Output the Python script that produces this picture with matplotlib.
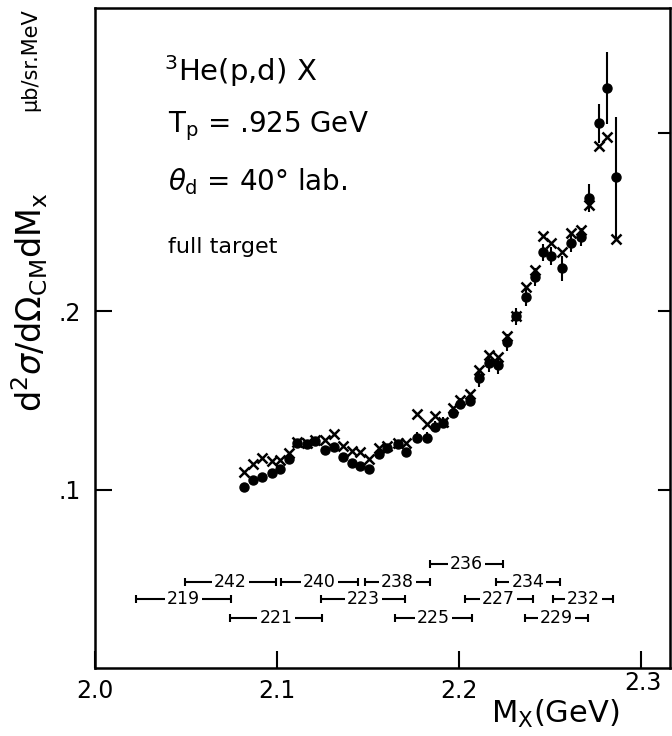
import numpy as np
import matplotlib.pyplot as plt

# M_x (GeV) des points mesures
mx = [2.0819, 2.0868, 2.0918, 2.0973, 2.1016, 2.1066, 2.1110, 2.1165, 2.1209,
      2.1264, 2.1313, 2.1363, 2.1412, 2.1456, 2.1505, 2.1560, 2.1604, 2.1665,
      2.1709, 2.1769, 2.1824, 2.1868, 2.1912, 2.1967, 2.2005, 2.2060, 2.2110,
      2.2165, 2.2214, 2.2264, 2.2313, 2.2368, 2.2418, 2.2462, 2.2505, 2.2566,
      2.2615, 2.2670, 2.2714, 2.2769, 2.2813, 2.2863]

# section efficace - points pleins
sig_dots = [0.1017, 0.1056, 0.1073, 0.1096, 0.1118, 0.1174, 0.1264, 0.1258, 0.1275,
            0.1225, 0.1242, 0.1185, 0.1152, 0.1135, 0.1118, 0.1202, 0.1236, 0.1258,
            0.1213, 0.1292, 0.1292, 0.1354, 0.1376, 0.1433, 0.1483, 0.1500, 0.1624,
            0.1708, 0.1697, 0.1826, 0.1972, 0.2079, 0.2191, 0.2331, 0.2309, 0.2242,
            0.2382, 0.2416, 0.2635, 0.3056, 0.3253, 0.2753]
err_dots = [0.002] * 19 + [0.003] * 7 + [0.005] * 9 + [0.007, 0.005, 0.005,
                                                     0.008, 0.011, 0.020, 0.034]

# section efficace - croix
sig_cross = [0.1101, 0.1146, 0.1180, 0.1163, 0.1169, 0.1208, 0.1270, 0.1264, 0.1281,
             0.1281, 0.1315, 0.1247, 0.1219, 0.1213, 0.1174, 0.1236, 0.1247, 0.1264,
             0.1264, 0.1427, 0.1371, 0.1416, 0.1382, 0.1461, 0.1506, 0.1539, 0.1674,
             0.1753, 0.1747, 0.1865, 0.1972, 0.2135, 0.2230, 0.2421, 0.2382, 0.2331,
             0.2438, 0.2455, 0.2596, 0.2927, 0.2978, 0.2404]

# intervalles de M_x couverts par chaque reglage
runs = ['236', '242', '240', '238', '234', '219', '223', '227', '232', '221', '225', '229']
run_lo = [2.1842, 2.0493, 2.1023, 2.1482, 2.2201, 2.0224, 2.1244, 2.2031, 2.2518,
          2.0739, 2.1647, 2.2360]
run_hi = [2.2239, 2.0995, 2.1445, 2.1842, 2.2555, 2.0748, 2.1704, 2.2404, 2.2848,
          2.1249, 2.2072, 2.2707]
run_y = [0.0584, 0.0483, 0.0483, 0.0483, 0.0483, 0.0388, 0.0388, 0.0388, 0.0388,
         0.0281, 0.0281, 0.0281]

fig = plt.figure(figsize=(6.72, 7.36), dpi=100)
ax = fig.add_axes([95 / 672, 68 / 736, 575 / 672, 660 / 736])

ax.errorbar(mx, sig_dots, yerr=err_dots, fmt='o', color='black', ms=6.5,
            elinewidth=1.5, capsize=0)
ax.plot(mx, sig_cross, 'x', color='black', ms=7, mew=1.8)

for lab, lo, hi, y in zip(runs, run_lo, run_hi, run_y):
    xc = (lo + hi) / 2
    ax.errorbar([xc], [y], xerr=[[xc - lo], [hi - xc]], fmt='none', color='black',
                elinewidth=1.5, capsize=3, capthick=1.5)
    ax.text(xc, y, lab, ha='center', va='center', fontsize=12.5,
            bbox=dict(facecolor='white', edgecolor='none', pad=1.5))

ax.set_xlim(2.0, 2.3159)
ax.set_ylim(0, 0.3702)

for s in ax.spines.values():
    s.set_linewidth(1.8)

ax.set_xticks([2.0, 2.1, 2.2, 2.3])
ax.set_xticklabels(['2.0', '2.1', '2.2', ''])
ax.set_yticks([0.1, 0.2])
ax.set_yticklabels(['.1', '.2'])
ax.tick_params(axis='both', direction='in', length=12, width=1.5, labelsize=17)
ax.tick_params(axis='x', pad=8)
ax.tick_params(axis='y', pad=10)
for y in [0.1, 0.2, 0.3]:
    ax.plot([2.3159 - 0.006, 2.3159], [y, y], color='black', lw=1.5, clip_on=False)

ax.text(2.301, -0.0085, '2.3', ha='center', va='center', fontsize=17)
ax.text(2.2527, -0.026, r'M$_\mathregular{X}$(GeV)', ha='center', va='center',
        fontsize=22)

ax.text(2.038, 0.335, r'$^\mathregular{3}$He(p,d) X', fontsize=21, va='center')
ax.text(2.04, 0.304, r'T$_\mathregular{p}$ = .925 GeV', fontsize=20, va='center')
ax.text(2.04, 0.273, r'$\theta_\mathregular{d}$ = 40° lab.', fontsize=20, va='center')
ax.text(2.04, 0.236, 'full target', fontsize=16, va='center')

fig.text(30 / 672, 1 - 302 / 736,
         r'd$^\mathregular{2}\sigma$/d$\Omega_\mathregular{CM}$dM$_\mathregular{x}$',
         rotation=90, ha='center', va='center', fontsize=24)
fig.text(30 / 672, 1 - 60 / 736, 'μb/sr.MeV', rotation=90, ha='center',
         va='center', fontsize=15)

fig.savefig('out.png', dpi=100)
